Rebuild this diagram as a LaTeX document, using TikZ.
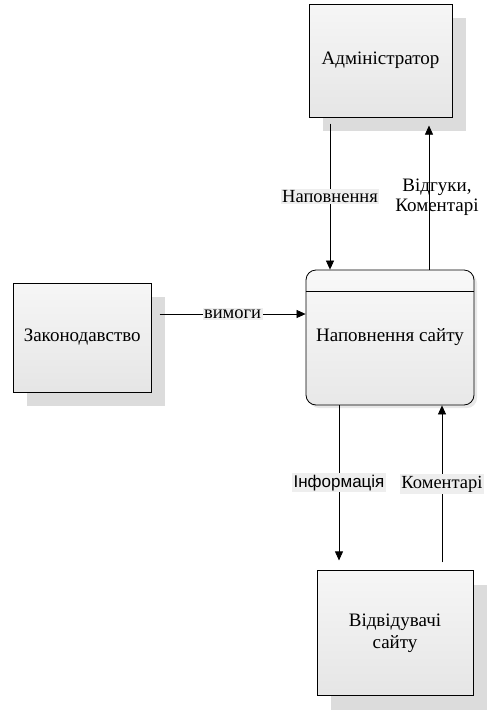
\documentclass[tikz,border=0pt]{standalone}
\usepackage{fontspec}
\setmainfont{Liberation Serif}
\newfontfamily\labelsans{Liberation Sans}
\usepackage{tikz}
\usetikzlibrary{positioning, arrows.meta, shadows}
\definecolor{shadowgray}{HTML}{DCDCDC}
\definecolor{labelgray}{HTML}{EEEEEE}
\tikzset{x=1pt, y=-1pt, % one pixel of the drawing
flow/.style={-{Triangle[length=9pt,width=8pt]}, line width=.7pt}, % makes the flows directed
entity/.style={draw, line width=.8pt, top color=gray!7, bottom color=gray!20, minimum width=138pt, minimum height=109pt,
  align=center, font=\fontsize{19}{22}\selectfont,
  drop shadow={shadow xshift=14pt, shadow yshift=-14pt, fill=shadowgray, opacity=1}}, % external entities
process/.style={draw, line width=.8pt, rounded corners=10pt, top color=gray!5, bottom color=gray!18, minimum width=168pt,
  minimum height=135pt, font=\fontsize{19}{22}\selectfont,
  drop shadow={shadow xshift=3pt, shadow yshift=-3pt, fill=gray!30, opacity=.6}}, % the process
flowlabel/.style={fill=labelgray, inner sep=1.5pt, font=\fontsize{18.5}{21}\selectfont}, % text on a flow
}
\begin{document}
\begin{tikzpicture}
\useasboundingbox (0,0) rectangle (492,710);
\node[process] (site) at (390,337.5) {\raisebox{3pt}{Наповнення сайту}};
\draw[line width=.8pt] ([yshift=-22pt]site.north west) -- ([yshift=-22pt]site.north east);
\node[entity, minimum width=143pt, minimum height=113pt, above=152pt of site, xshift=-9.5pt] (admin) {Адміністратор};
\node[entity, left=154pt of site] (law) {Законодавство};
\node[entity, minimum width=156pt, minimum height=125pt, below=165pt of site, xshift=5pt] (visitors) {Відвідувачі\\сайту};

\draw[flow] ([shift={(-50.5,6)}]admin.south) -- node[flowlabel]{Наповнення} ([xshift=-60pt]site.north);
\draw[flow] ([xshift=39pt]site.north) -- node[pos=.5, xshift=8pt, align=center, font=\fontsize{19}{20}\selectfont]{Відгуки,\\Коментарі} ([shift={(48.5,8)}]admin.south);
\draw[flow] ([xshift=8pt,yshift=23.5pt]law.east) -- node[flowlabel]{вимоги} ([yshift=23.5pt]site.west);
\draw[flow] ([xshift=-51pt]site.south) -- node[flowlabel, font=\labelsans\fontsize{17}{20}\selectfont]{Інформація} ([shift={(-56,-10)}]visitors.north);
\draw[flow] ([shift={(47,-8)}]visitors.north) -- node[flowlabel]{Коментарі} ([xshift=52pt]site.south);
\end{tikzpicture}
\end{document}
